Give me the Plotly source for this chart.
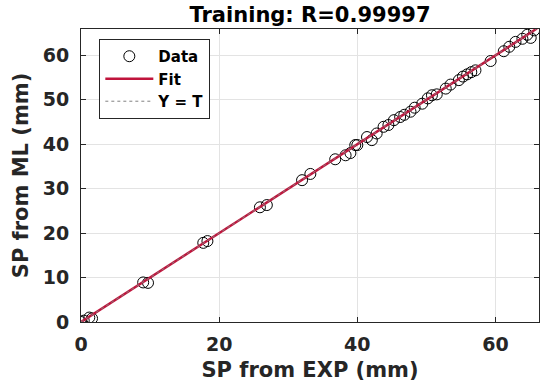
import plotly.graph_objects as go

# Data (SP from EXP vs SP from ML, mm)
sp_exp = [0.0, 0.4, 1.2, 1.6, 9.0, 9.7, 17.7, 18.3, 25.9, 26.9, 32.0, 33.2,
          36.8, 38.3, 39.0, 39.7, 40.0, 41.4, 42.1, 42.8, 43.8, 44.5, 45.3,
          46.2, 46.8, 47.7, 48.3, 49.4, 50.2, 50.8, 51.5, 52.8, 53.5, 54.7,
          55.3, 55.9, 56.5, 57.1, 59.3, 61.2, 62.0, 62.9, 63.9, 64.6, 65.1, 65.6]
sp_ml = [0.0, 0.3, 1.0, 0.8, 8.9, 8.8, 17.8, 18.2, 25.8, 26.3, 31.9, 33.3,
         36.6, 37.5, 38.0, 39.8, 39.8, 41.6, 40.9, 42.4, 43.9, 44.3, 45.4,
         46.1, 46.6, 47.3, 48.2, 49.1, 50.3, 51.0, 51.2, 52.5, 53.4, 54.4,
         55.2, 55.7, 56.2, 56.6, 58.7, 60.9, 61.9, 63.0, 63.7, 64.6, 63.9, 65.6]
fit_x = [0.0, 66.0]
fit_y = [0.0, 66.0]

FONT = "DejaVu Sans"

fig = go.Figure()
fig.add_trace(go.Scatter(
    x=sp_exp, y=sp_ml, mode="markers", name="Data",
    marker=dict(symbol="circle-open", size=11, color="black",
                line=dict(width=1, color="black")),
))
fig.add_trace(go.Scatter(
    x=fit_x, y=fit_y, mode="lines", name="Fit",
    line=dict(color="#c0143c", width=2.5),
))
fig.add_trace(go.Scatter(
    x=fit_x, y=fit_y, mode="lines", name="Y = T",
    line=dict(color="#808080", width=1, dash="dot"),
))

axis_font = dict(family=FONT, size=19, color="#262626", weight="bold")
title_font = dict(family=FONT, size=21, color="#262626", weight="bold")

common = dict(
    showgrid=True, gridcolor="#e3e3e3", gridwidth=1,
    showline=True, linecolor="#262626", linewidth=1, mirror="ticks",
    ticks="inside", ticklen=5, tickcolor="#262626",
    zeroline=False, tickfont=axis_font, automargin=False,
)

fig.update_xaxes(range=[0, 66.3], tickvals=[0, 20, 40, 60], ticklabelstandoff=5,
                 title=dict(text="SP from EXP (mm)", font=title_font, standoff=10),
                 **common)
fig.update_yaxes(range=[0, 65.9], tickvals=[0, 10, 20, 30, 40, 50, 60], ticklabelstandoff=7,
                 title=dict(text="SP from ML (mm)", font=title_font, standoff=8),
                 **common)

fig.update_layout(
    width=550, height=382,
    margin=dict(l=81, r=11, t=29, b=60),
    paper_bgcolor="white", plot_bgcolor="white",
    title=dict(text="Training: R=0.99997", x=0.5, xref="paper", xanchor="center",
               y=0.962, yanchor="middle", automargin=False,
               font=dict(family=FONT, size=21, color="black", weight="bold")),
    legend=dict(x=0.04, y=0.966, xanchor="left", yanchor="top",
                bgcolor="white", bordercolor="#262626", borderwidth=1,
                font=dict(family=FONT, size=15, color="black", weight="bold"),
                tracegroupgap=0, itemwidth=48),
    showlegend=True,
)

# remove the browser's default page margin so the figure fills the window exactly
fig.write_html("out.html", config={"displayModeBar": False},
               post_script="document.body.style.margin='0';")
